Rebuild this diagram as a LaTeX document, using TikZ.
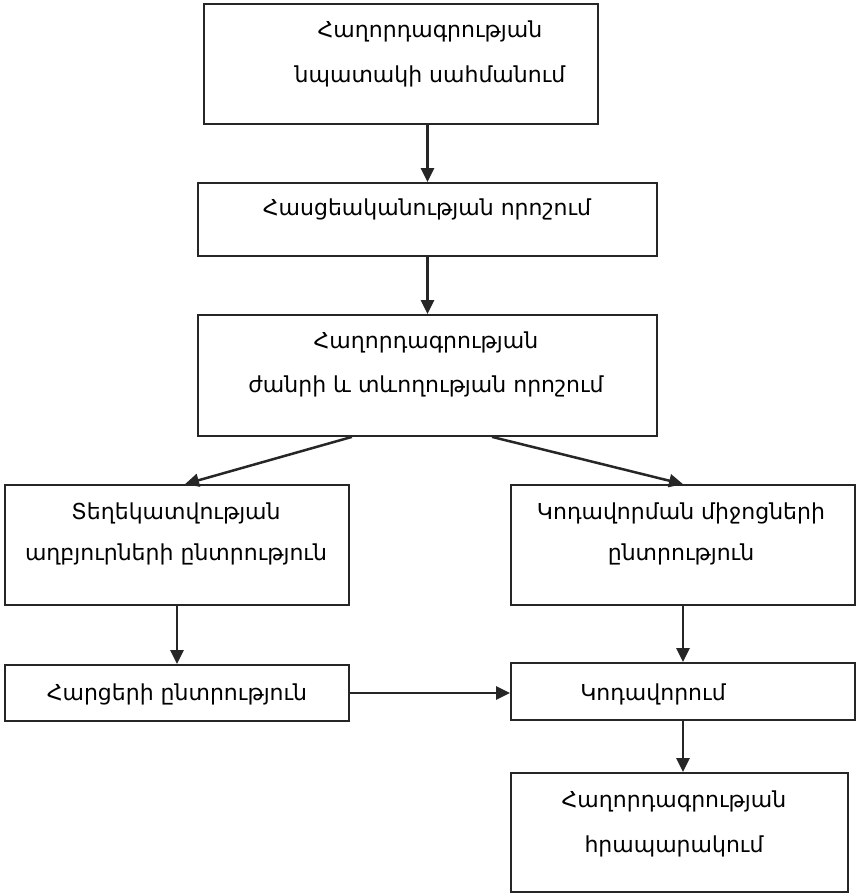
\documentclass[tikz,border=0pt]{standalone}
\usepackage{fontspec}
\setmainfont{DejaVu Sans}
\usetikzlibrary{arrows.meta,calc}
\begin{document}
\begin{tikzpicture}[x=1pt,y=-1pt,
  box/.style={draw=black!85, line width=1.8pt, inner sep=0pt},
  lbl/.style={font=\fontsize{22}{26}\selectfont, align=center, inner sep=0pt, anchor=base},
  flow/.style={draw=black!85, line width=2.5pt, -{Triangle[length=14pt,width=13pt]}}]
\useasboundingbox (0,0) rectangle (857,893);

% frames
\node[box, minimum width=394pt, minimum height=120pt] (b1) at (401,64) {};
\node[box, minimum width=459pt, minimum height=73pt]  (b2) at (427.5,219.5) {};
\node[box, minimum width=459pt, minimum height=121pt] (b3) at (427.5,375.5) {};
\node[box, minimum width=344pt, minimum height=120pt] (b4) at (177,545) {};
\node[box, minimum width=344pt, minimum height=120pt] (b5) at (683,545) {};
\node[box, minimum width=344pt, minimum height=56pt]  (b6) at (177,693) {};
\node[box, minimum width=344pt, minimum height=57pt]  (b7) at (683,691.5) {};
\node[box, minimum width=337pt, minimum height=119pt] (b8) at (679.5,832.5) {};

% captions (anchored at the baseline of their last line)
\node[lbl] (t1) at (430,83) {Հաղորդագրության\\[19pt]նպատակի սահմանում};
\node[lbl] (t2) at (427,215) {Հասցեականության որոշում};
\node[lbl] (t3) at (426,392) {Հաղորդագրության\\[18pt]ժանրի և տևողության որոշում};
\node[lbl] (t4) at (176,560) {Տեղեկատվության\\[15pt]աղբյուրների ընտրություն};
\node[lbl] (t5) at (681,560) {Կոդավորման միջոցների\\[15pt]ընտրություն};
\node[lbl] (t6) at (177,700) {Հարցերի ընտրություն};
\node[lbl] (t7) at (653,700) {Կոդավորում};
\node[lbl] (t8) at (674,852) {Հաղորդագրության\\[19pt]հրապարակում};

% connectors
\draw[flow] (b1.south -| b2.north) -- (b2.north);
\draw[flow] (b2.south) -- (b3.north);
\draw[flow] ($(b3.south west)!0.336!(b3.south east)$) -- ($(b4.north)+(8,0)$);
\draw[flow] ($(b3.south west)!0.64!(b3.south east)$) -- (b5.north);
\draw[flow] (b4.south) -- (b6.north);
\draw[flow] (b5.south) -- (b7.north);
\draw[flow] (b6.east) -- (b6.east -| b7.west);
\draw[flow] (b7.south) -- (b7.south |- b8.north);
\end{tikzpicture}
\end{document}
